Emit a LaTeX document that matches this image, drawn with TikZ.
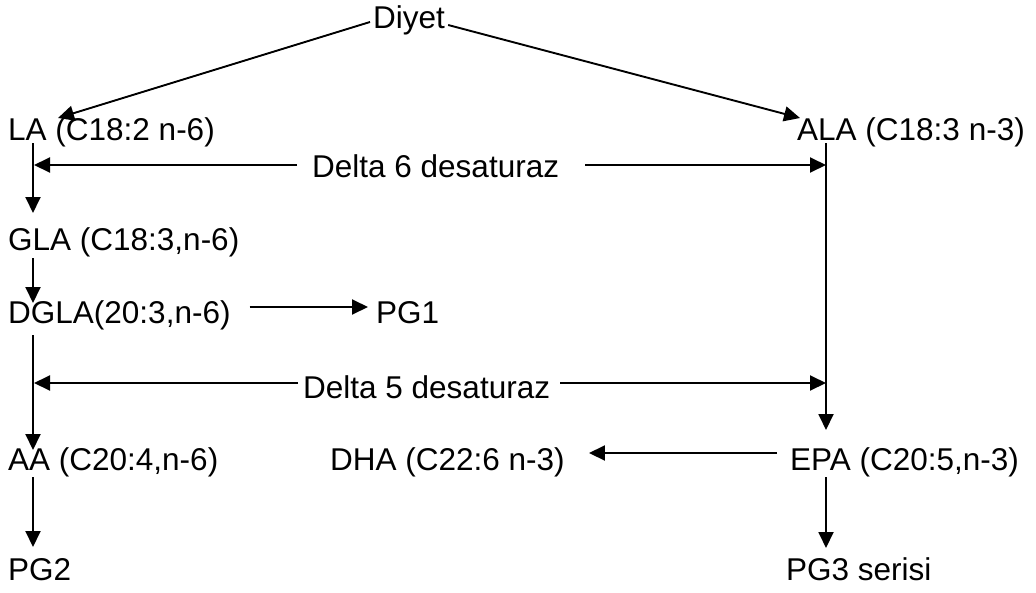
\documentclass[tikz,border=0pt]{standalone}
\usepackage{fontspec}
\setmainfont{Liberation Sans}
\usetikzlibrary{arrows.meta,calc}
\begin{document}
\begin{tikzpicture}[x=1pt,y=-1pt,
  lbl/.style={inner sep=0pt, anchor=base west, font=\fontsize{31.5}{38}\selectfont},
  rail/.style={line width=1.9pt},
  flow/.style={rail, -{Triangle[length=16pt,width=15pt]}}]
\useasboundingbox (0,0) rectangle (1036,592);

% labels
\node[lbl] (diyet) at (373,28)  {Diyet};
\node[lbl] (la)    at (8,140)   {LA (C18:2 n-6)};
\node[lbl] (ala)   at (797,140) {ALA (C18:3 n-3)};
\node[lbl] (d6)    at (312,177) {Delta 6 desaturaz};
\node[lbl] (gla)   at (8,250)   {GLA (C18:3,n-6)};
\node[lbl] (dgla)  at (8,323)   {DGLA(20:3,n-6)};
\node[lbl] (pg1)   at (376,323) {PG1};
\node[lbl] (d5)    at (303,398) {Delta 5 desaturaz};
\node[lbl] (aa)    at (8,470)   {AA (C20:4,n-6)};
\node[lbl] (dha)   at (330,470) {DHA (C22:6 n-3)};
\node[lbl] (epa)   at (790,470) {EPA (C20:5,n-3)};
\node[lbl] (pg2)   at (8,580)   {PG2};
\node[lbl] (pg3)   at (786,580) {PG3 serisi};

% points where the desaturase arrows meet the two chains
\coordinate (l6) at (34,165);
\coordinate (r6) at (826,165);
\coordinate (l5) at (34,383);
\coordinate (r5) at (826,383);

% diet to the two parent acids
\draw[flow] ($(diyet.base west)+(-3,-6)$) -- ($(la.base west)+(50,-22)$);
\draw[flow] ($(diyet.base east)+(3,-3)$) -- ($(ala.base west)+(3,-22)$);

% n-6 chain
\draw[flow] ($(la.base west)+(25,3)$)   -- ($(gla.base west)+(25,-37)$);
\draw[flow] ($(gla.base west)+(25,8)$)  -- ($(dgla.base west)+(25,-20)$);
\draw[flow] ($(dgla.base east)+(19,-16)$) -- ($(pg1.base west)+(-8,-16)$);
\draw[flow] ($(dgla.base west)+(25,12)$) -- ($(aa.base west)+(25,-20)$);
\draw[flow] ($(aa.base west)+(25,7)$)   -- ($(pg2.base west)+(25,-33)$);

% n-3 chain
\draw[flow] ($(ala.base west)+(29,3)$)  -- ($(epa.base west)+(36,-40)$);
\draw[flow] ($(epa.base west)+(36,7)$)  -- ($(pg3.base west)+(40,-32)$);
\draw[flow] ($(epa.base west)+(-13,-17)$) -- ($(dha.base east)+(24,-17)$);

% desaturase enzymes acting on both chains
\draw[flow] ($(d6.base west)+(-15,-12)$) -- (l6);
\draw[flow] ($(d6.base east)+(26,-12)$)  -- (r6);
\draw[flow] ($(d5.base west)+(-5,-15)$)  -- (l5);
\draw[flow] ($(d5.base east)+(10,-15)$)  -- (r5);
\end{tikzpicture}
\end{document}
